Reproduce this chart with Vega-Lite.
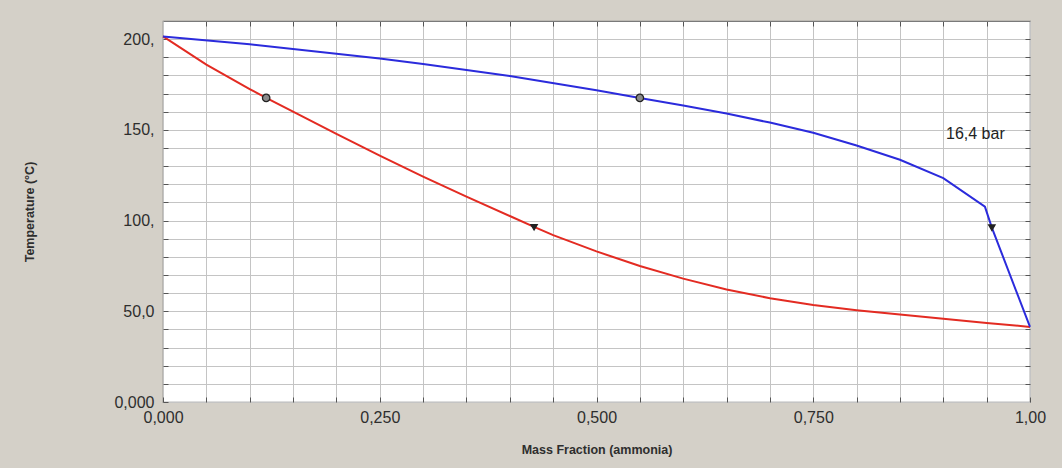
{
  "$schema": "https://vega.github.io/schema/vega-lite/v6.json",
  "width": 867,
  "height": 381,
  "autosize": {"type": "none"},
  "padding": {"left": 163, "top": 21, "right": 32, "bottom": 66},
  "background": "#d4d0c8",
  "config": {
    "font": "Liberation Sans",
    "view": {"stroke": "#7a7a7a", "strokeWidth": 1.2, "fill": "white"}
  },
  "datasets": {
    "curves": [
      {"series": "bubble", "x": 0, "T": 201.5},
      {"series": "bubble", "x": 0.05, "T": 186},
      {"series": "bubble", "x": 0.1, "T": 172.5},
      {"series": "bubble", "x": 0.119, "T": 167.6},
      {"series": "bubble", "x": 0.15, "T": 160},
      {"series": "bubble", "x": 0.2, "T": 147.8},
      {"series": "bubble", "x": 0.25, "T": 135.8},
      {"series": "bubble", "x": 0.3, "T": 124.2},
      {"series": "bubble", "x": 0.35, "T": 113.2},
      {"series": "bubble", "x": 0.4, "T": 102.5},
      {"series": "bubble", "x": 0.428, "T": 96.5},
      {"series": "bubble", "x": 0.45, "T": 92},
      {"series": "bubble", "x": 0.5, "T": 83},
      {"series": "bubble", "x": 0.55, "T": 75},
      {"series": "bubble", "x": 0.6, "T": 68},
      {"series": "bubble", "x": 0.65, "T": 62},
      {"series": "bubble", "x": 0.7, "T": 57.2},
      {"series": "bubble", "x": 0.75, "T": 53.5},
      {"series": "bubble", "x": 0.8, "T": 50.6},
      {"series": "bubble", "x": 0.85, "T": 48.2},
      {"series": "bubble", "x": 0.9, "T": 45.9},
      {"series": "bubble", "x": 0.95, "T": 43.6},
      {"series": "bubble", "x": 1, "T": 41.4},
      {"series": "dew", "x": 0, "T": 201.5},
      {"series": "dew", "x": 0.1, "T": 197.2},
      {"series": "dew", "x": 0.2, "T": 192},
      {"series": "dew", "x": 0.25, "T": 189.3},
      {"series": "dew", "x": 0.3, "T": 186.3},
      {"series": "dew", "x": 0.4, "T": 179.7},
      {"series": "dew", "x": 0.5, "T": 171.8},
      {"series": "dew", "x": 0.55, "T": 167.6},
      {"series": "dew", "x": 0.6, "T": 163.4},
      {"series": "dew", "x": 0.65, "T": 159},
      {"series": "dew", "x": 0.7, "T": 154},
      {"series": "dew", "x": 0.75, "T": 148.4},
      {"series": "dew", "x": 0.8, "T": 141.4},
      {"series": "dew", "x": 0.85, "T": 133.5},
      {"series": "dew", "x": 0.9, "T": 123.4},
      {"series": "dew", "x": 0.948, "T": 107.7},
      {"series": "dew", "x": 0.956, "T": 96.1},
      {"series": "dew", "x": 1, "T": 41.4}
    ],
    "markers": [
      {"x": 0.119, "T": 167.6, "kind": "circle"},
      {"x": 0.55, "T": 167.6, "kind": "circle"},
      {"x": 0.428, "T": 96.3, "kind": "triangle-down"},
      {"x": 0.956, "T": 96.1, "kind": "triangle-down"}
    ],
    "labels": [
      {"x": 0.937, "T": 147.5, "text": "16,4 bar"}
    ]
  },
  "layer": [
    {
      "data": {"name": "curves"},
      "mark": {"type": "line", "strokeWidth": 2},
      "encoding": {
        "x": {
          "field": "x", "type": "quantitative",
          "scale": {"domain": [0, 1], "nice": false},
          "axis": {
            "orient": "bottom",
            "title": "Mass Fraction (ammonia)",
            "values": [0,0.05,0.1,0.15,0.2,0.25,0.3,0.35,0.4,0.45,0.5,0.55,0.6,0.65,0.7,0.75,0.8,0.85,0.9,0.95,1],
            "labelExpr": "datum.value==0?'0,000':datum.value==0.25?'0,250':datum.value==0.5?'0,500':datum.value==0.75?'0,750':datum.value==1?'1,00':''",
            "labelFlush": false,
            "labelOverlap": false,
            "labelFontSize": 16,
            "labelColor": "#2e2e2e",
            "labelPadding": 12,
            "grid": true, "gridColor": "#c4c4c4", "gridWidth": 1,
            "domain": false,
            "tickSize": -5, "tickColor": "#555555",
            "titleFontSize": 12.5, "titleFontWeight": "bold", "titleColor": "#2e2e2e",
            "titlePadding": 18
          }
        },
        "y": {
          "field": "T", "type": "quantitative",
          "scale": {"domain": [0, 210], "nice": false},
          "axis": {
            "orient": "left",
            "title": "Temperature (°C)",
            "values": [0,10,20,30,40,50,60,70,80,90,100,110,120,130,140,150,160,170,180,190,200],
            "labelExpr": "datum.value==200?'200,':datum.value==150?'150,':datum.value==100?'100,':datum.value==50?'50,0':datum.value==0?'0,000':''",
            "labelOverlap": false,
            "labelFlush": false,
            "labelFontSize": 16,
            "labelColor": "#2e2e2e",
            "labelPadding": 14,
            "grid": true, "gridColor": "#c4c4c4", "gridWidth": 1,
            "domain": false,
            "tickSize": -5, "tickColor": "#555555",
            "titleFontSize": 12.5, "titleFontWeight": "bold", "titleColor": "#2e2e2e",
            "titlePadding": 77
          }
        },
        "color": {
          "field": "series", "type": "nominal",
          "scale": {"domain": ["bubble", "dew"], "range": ["#e32b22", "#2b2bdc"]},
          "legend": null
        }
      }
    },
    {
      "data": {"name": "markers"},
      "mark": {"type": "point", "filled": true, "stroke": "#222222", "strokeWidth": 1.3, "opacity": 1},
      "encoding": {
        "x": {
          "field": "x", "type": "quantitative",
          "scale": {"domain": [0, 1], "nice": false},
          "axis": {
            "orient": "top", "title": null, "labels": false, "grid": false, "domain": false,
            "values": [0.05,0.1,0.15,0.2,0.25,0.3,0.35,0.4,0.45,0.5,0.55,0.6,0.65,0.7,0.75,0.8,0.85,0.9,0.95],
            "tickSize": -5, "tickColor": "#555555"
          }
        },
        "y": {
          "field": "T", "type": "quantitative",
          "scale": {"domain": [0, 210], "nice": false},
          "axis": {
            "orient": "right", "title": null, "labels": false, "grid": false, "domain": false,
            "values": [10,20,30,40,50,60,70,80,90,100,110,120,130,140,150,160,170,180,190,200],
            "tickSize": -5, "tickColor": "#555555"
          }
        },
        "shape": {
          "field": "kind", "type": "nominal",
          "scale": {"domain": ["circle", "triangle-down"], "range": ["circle", "triangle-down"]},
          "legend": null
        },
        "fill": {
          "field": "kind", "type": "nominal",
          "scale": {"domain": ["circle", "triangle-down"], "range": ["#8a8a8a", "#222222"]},
          "legend": null
        },
        "size": {
          "field": "kind", "type": "nominal",
          "scale": {"domain": ["circle", "triangle-down"], "range": [55, 40]},
          "legend": null
        }
      }
    },
    {
      "data": {"name": "labels"},
      "mark": {"type": "text", "fontSize": 16, "color": "#222222", "align": "center", "baseline": "middle"},
      "encoding": {
        "x": {"field": "x", "type": "quantitative", "axis": null},
        "y": {"field": "T", "type": "quantitative", "axis": null},
        "text": {"field": "text"}
      }
    }
  ],
  "resolve": {"axis": {"x": "independent", "y": "independent"}}
}
